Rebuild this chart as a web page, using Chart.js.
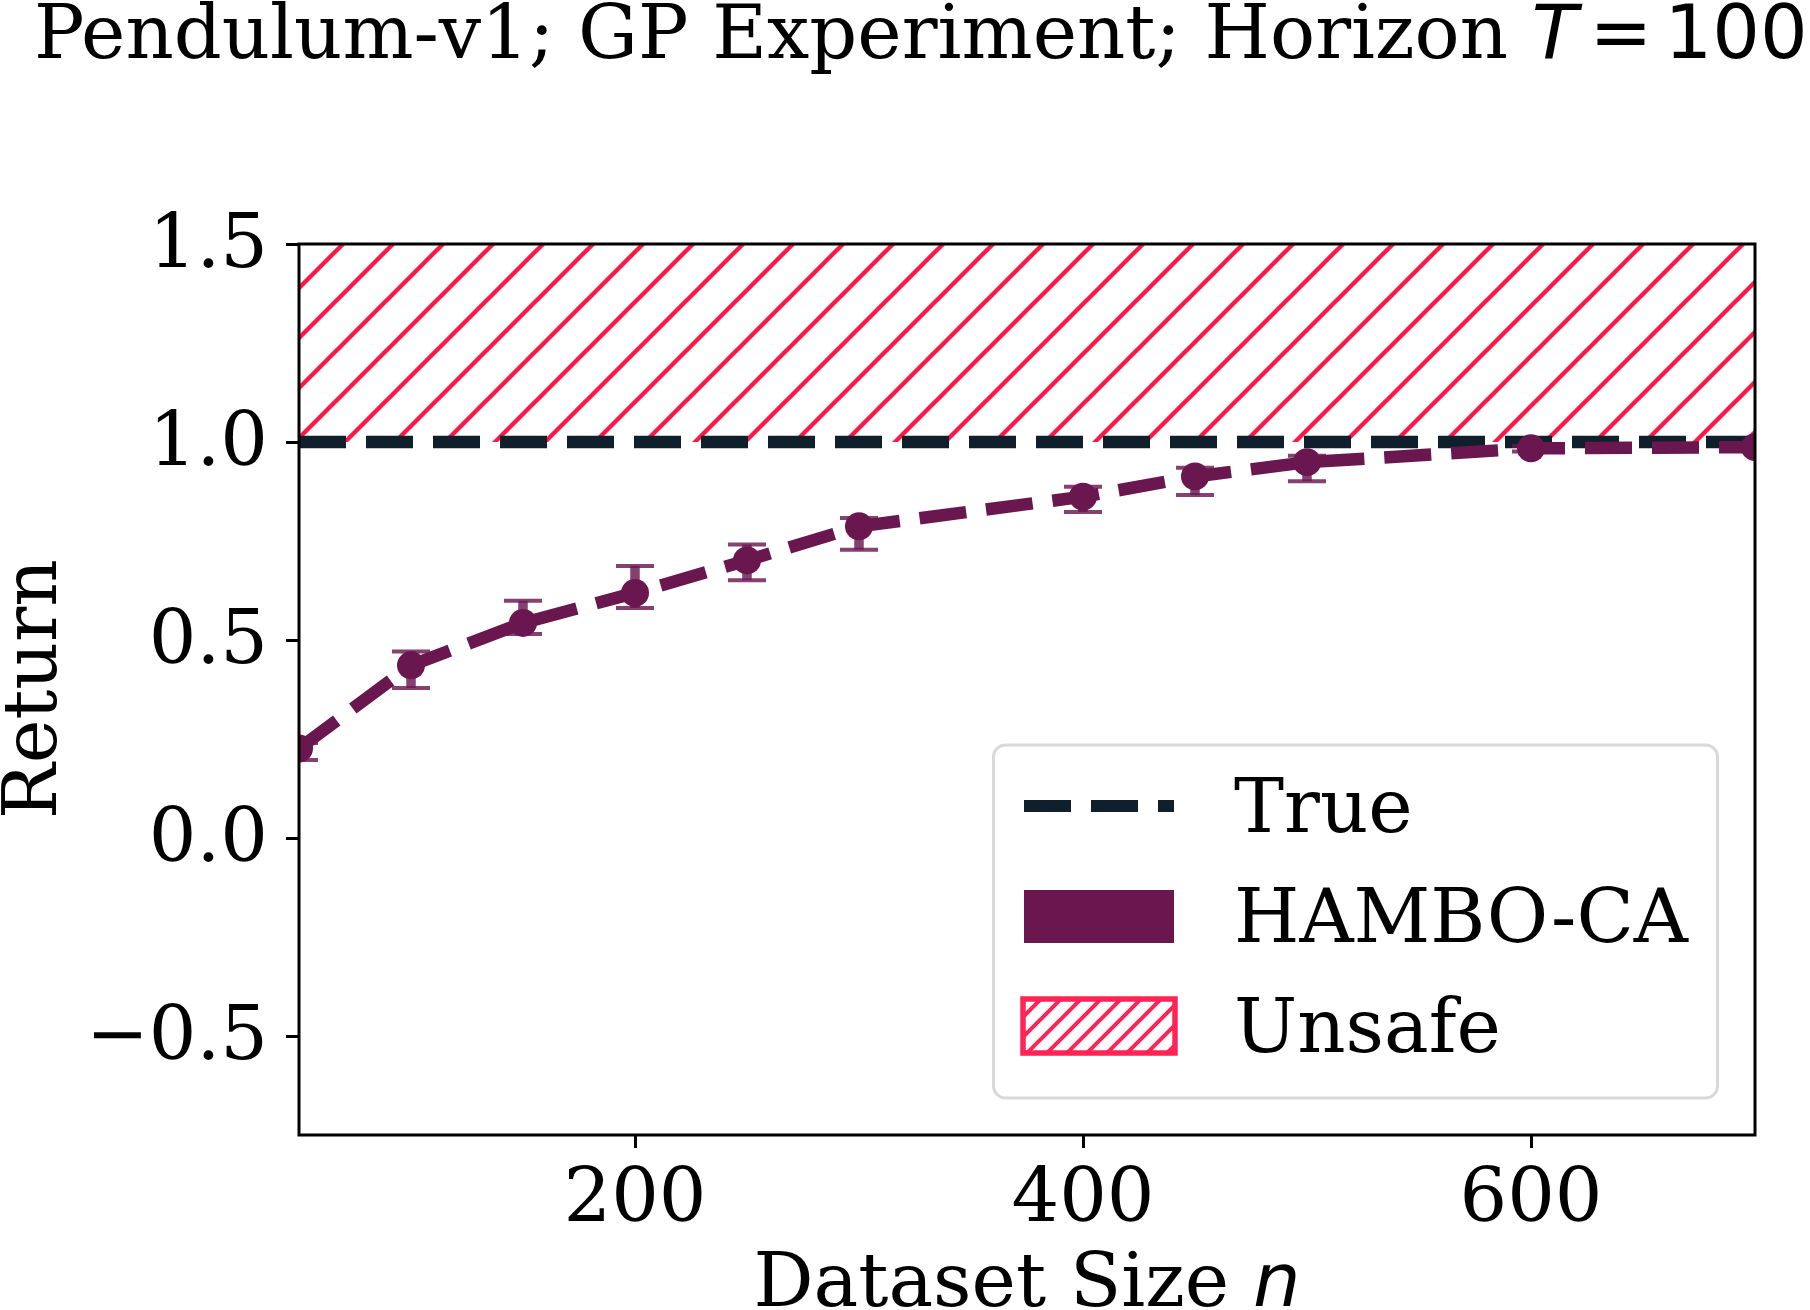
<!DOCTYPE html>
<html>
<head>
<meta charset="utf-8">
<script src="https://cdn.jsdelivr.net/npm/chart.js@4.4.0/dist/chart.umd.min.js"></script>
<style>
  html, body { margin: 0; padding: 0; background: #fff; }
  #wrap { width: 1810px; height: 1310px; }
</style>
</head>
<body>
<div id="wrap"><canvas id="returnChart" width="1810" height="1310"></canvas></div>
<script>
// ================== DATA ==================
const datasetSizes = [50, 100, 150, 200, 250, 300, 400, 450, 500, 600, 700];
const hamboReturn = [0.226, 0.436, 0.543, 0.619, 0.701, 0.787, 0.862, 0.913, 0.949, 0.984, 0.987];
const hamboLower  = [0.197, 0.379, 0.515, 0.581, 0.651, 0.728, 0.823, 0.866, 0.901, 0.976, 0.979];
const hamboUpper  = [0.240, 0.471, 0.599, 0.687, 0.741, 0.808, 0.887, 0.935, 0.965, 0.990, 0.994];
const trueReturn = 1.0;
const unsafeFrom = 1.0;
const unsafeTo = 1.5;
const xRange = [50, 700];
const yRange = [-0.75, 1.5];
const xTicks = [200, 400, 600];
const yTicks = [-0.5, 0.0, 0.5, 1.0, 1.5];

const PURPLE = '#6a1750';
const PURPLE_ERR = 'rgba(106, 23, 80, 0.82)';
const NAVY = '#0f1f2c';
const RED = '#ff1745';
const RED_LEGEND = '#ff2356';
const SERIF = '"DejaVu Serif", "Liberation Serif", serif';
const SANS = '"DejaVu Sans", sans-serif';
const FS = 75;

// diagonal hatch pattern ('/')
function makeHatch(step, width, color, phase) {
    const c = document.createElement('canvas');
    c.width = step; c.height = step;
    const g = c.getContext('2d');
    g.strokeStyle = color;
    g.lineWidth = width;
    [0, step, 2 * step].forEach(k => {
        g.beginPath();
        g.moveTo(k + 10, -10);
        g.lineTo(-10, k + 10);
        g.stroke();
    });
    const p = g.createPattern(c, 'repeat');
    if (phase) p.setTransform(new DOMMatrix().translate(phase, 0));
    return p;
}

const canvas = document.getElementById('returnChart');
const hatchPlot = makeHatch(50, 4.4, RED, 37);
const hatchLegend = makeHatch(20, 4, RED_LEGEND, 0);

// draws text pieces with different fonts one after another, returns width
function drawRuns(ctx, runs, x, y, measureOnly) {
    let w = 0;
    runs.forEach(r => {
        ctx.font = r.font;
        if (!measureOnly) ctx.fillText(r.text, x + w, y);
        w += ctx.measureText(r.text).width + (r.gap || 0);
    });
    return w;
}

const decor = {
    id: 'decor',
    beforeDatasetDraw(chart, args) {
        if (args.index !== 0) return;
        const { ctx, chartArea: a } = chart;
        const xs = chart.scales.x, ys = chart.scales.y;
        ctx.save();
        ctx.beginPath();
        ctx.rect(a.left, a.top, a.right - a.left, a.bottom - a.top);
        ctx.clip();
        ctx.strokeStyle = PURPLE_ERR;
        datasetSizes.forEach((n, i) => {
            const px = xs.getPixelForValue(n);
            const lo = ys.getPixelForValue(hamboLower[i]);
            const hi = ys.getPixelForValue(hamboUpper[i]);
            ctx.lineWidth = 9.5;
            ctx.beginPath();
            ctx.moveTo(px, lo); ctx.lineTo(px, hi);
            ctx.stroke();
            ctx.lineWidth = 4;
            ctx.beginPath();
            ctx.moveTo(px - 19, lo); ctx.lineTo(px + 19, lo);
            ctx.moveTo(px - 19, hi); ctx.lineTo(px + 19, hi);
            ctx.stroke();
        });
        ctx.restore();
    },
    afterDatasetsDraw(chart) {
        const { ctx, chartArea: a } = chart;
        ctx.save();
        ctx.strokeStyle = '#000';
        ctx.lineWidth = 3;
        ctx.strokeRect(a.left, a.top, a.right - a.left, a.bottom - a.top);
        ctx.restore();
    },
    afterDraw(chart) {
        const { ctx, chartArea: a } = chart;
        ctx.save();
        ctx.fillStyle = '#000';
        ctx.textBaseline = 'alphabetic';
        ctx.textAlign = 'left';

        // title
        drawRuns(ctx, [
            { text: 'Pendulum-v1; GP Experiment; Horizon ', font: FS + 'px ' + SERIF },
            { text: 'T', font: 'italic ' + FS + 'px ' + SANS, gap: 12 },
            { text: '=', font: FS + 'px ' + SANS, gap: 12 },
            { text: '100', font: FS + 'px ' + SANS }
        ], 34, 58);

        // x axis label
        const xl = [
            { text: 'Dataset Size ', font: FS + 'px ' + SERIF },
            { text: 'n', font: 'italic ' + FS + 'px ' + SANS }
        ];
        const cx = (a.left + a.right) / 2;
        const xw = drawRuns(ctx, xl, 0, 0, true);
        drawRuns(ctx, xl, cx - xw / 2, 1306);

        // y axis label
        ctx.save();
        ctx.translate(56, 689);
        ctx.rotate(-Math.PI / 2);
        ctx.font = '74px ' + SERIF;
        ctx.textAlign = 'center';
        ctx.fillText('Return', 0, 0);
        ctx.restore();

        // legend
        const L = { x: 993.5, y: 745, w: 724, h: 353 };
        ctx.beginPath();
        ctx.roundRect(L.x, L.y, L.w, L.h, 12);
        ctx.fillStyle = 'rgba(255,255,255,0.8)';
        ctx.fill();
        ctx.strokeStyle = '#d9d9d9';
        ctx.lineWidth = 3;
        ctx.stroke();

        const hx = 1024, hw = 150, tx = 1234;
        // True
        ctx.strokeStyle = NAVY;
        ctx.lineWidth = 12;
        ctx.setLineDash([47, 20]);
        ctx.beginPath();
        ctx.moveTo(hx, 806); ctx.lineTo(hx + hw, 806);
        ctx.stroke();
        ctx.setLineDash([]);
        // HAMBO-CA
        ctx.fillStyle = PURPLE;
        ctx.fillRect(hx, 890, hw, 53);
        // Unsafe
        ctx.fillStyle = '#fff';
        ctx.fillRect(hx - 1, 999, hw + 2, 54);
        ctx.fillStyle = hatchLegend;
        ctx.fillRect(hx - 1, 999, hw + 2, 54);
        ctx.strokeStyle = RED_LEGEND;
        ctx.lineWidth = 5.5;
        ctx.strokeRect(hx - 1, 999, hw + 2, 54);

        ctx.fillStyle = '#000';
        ctx.font = FS + 'px ' + SERIF;
        ctx.fillText('True', tx, 832);
        ctx.fillText('HAMBO-CA', tx, 942);
        ctx.fillText('Unsafe', tx, 1052);
        ctx.restore();
    }
};

const xyPoints = (xs, ys) => xs.map((x, i) => ({ x: x, y: ys[i] }));

new Chart(canvas, {
    type: 'line',
    data: {
        datasets: [{
            label: 'HAMBO-CA',
            data: xyPoints(datasetSizes, hamboReturn),
            borderColor: PURPLE,
            backgroundColor: PURPLE,
            borderWidth: 12.5,
            borderDash: [47, 20],
            borderCapStyle: 'butt',
            pointRadius: 14,
            pointBorderWidth: 0,
            pointBackgroundColor: PURPLE,
            tension: 0,
            fill: false,
            clip: 0
        }, {
            label: 'True',
            data: xyPoints(xRange, [trueReturn, trueReturn]),
            borderColor: NAVY,
            borderWidth: 12.5,
            borderDash: [47, 20],
            borderCapStyle: 'butt',
            pointRadius: 0,
            fill: false,
            clip: 0
        }, {
            label: 'Unsafe',
            data: xyPoints(xRange, [unsafeTo, unsafeTo]),
            borderWidth: 0,
            pointRadius: 0,
            backgroundColor: hatchPlot,
            fill: { value: unsafeFrom },
            clip: 0
        }]
    },
    options: {
        responsive: false,
        animation: false,
        devicePixelRatio: 1,
        layout: { padding: { top: 244, right: 55, left: 0, bottom: 0 } },
        plugins: {
            legend: { display: false },
            tooltip: { enabled: false },
            title: { display: false }
        },
        scales: {
            x: {
                type: 'linear',
                min: xRange[0],
                max: xRange[1],
                afterBuildTicks: s => { s.ticks = xTicks.map(v => ({ value: v })); },
                afterFit: s => { s.height = 175; },
                grid: { drawOnChartArea: false, drawTicks: true, tickLength: 13, tickWidth: 3, tickColor: '#000' },
                border: { display: false },
                ticks: {
                    font: { family: SERIF, size: FS },
                    color: '#000',
                    padding: 9,
                    maxRotation: 0,
                    autoSkip: false,
                    callback: v => String(v)
                }
            },
            y: {
                type: 'linear',
                min: yRange[0],
                max: yRange[1],
                afterBuildTicks: s => { s.ticks = yTicks.map(v => ({ value: v })); },
                afterFit: s => { s.width = 299; },
                grid: { drawOnChartArea: false, drawTicks: true, tickLength: 13, tickWidth: 3, tickColor: '#000' },
                border: { display: false },
                ticks: {
                    font: { family: SERIF, size: FS },
                    color: '#000',
                    padding: 18,
                    labelOffset: 4,
                    autoSkip: false,
                    callback: v => (v < 0 ? '\u2212' + Math.abs(v).toFixed(1) : v.toFixed(1))
                }
            }
        }
    },
    plugins: [decor]
});
</script>
</body>
</html>
